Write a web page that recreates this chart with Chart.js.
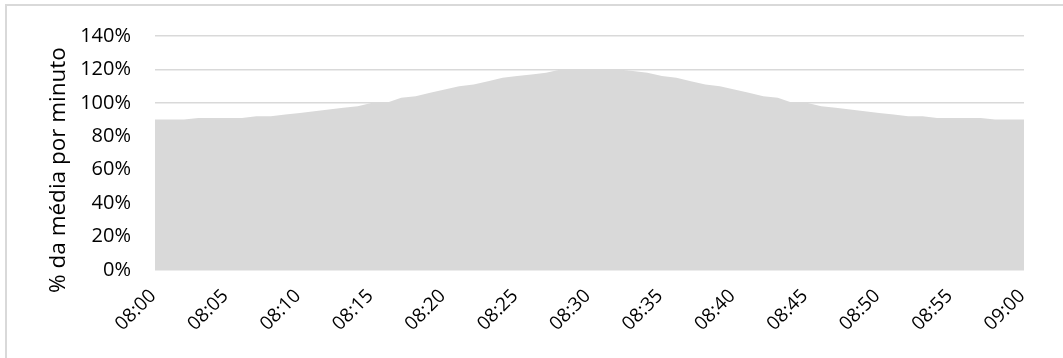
<!DOCTYPE html>
<html>
<head>
<meta charset="utf-8">
<script src="https://cdn.jsdelivr.net/npm/chart.js@4/dist/chart.umd.min.js"></script>
<style>
  html, body { margin: 0; padding: 0; background: #ffffff; }
  #wrap { width: 1063px; height: 358px; position: relative; }
</style>
</head>
<body>
<div id="wrap"><canvas id="chart" width="1063" height="358"></canvas></div>
<script>
// Minute-by-minute categories, 08:00 to 09:00
const minutes = [
  "08:00","08:01","08:02","08:03","08:04","08:05","08:06","08:07","08:08","08:09",
  "08:10","08:11","08:12","08:13","08:14","08:15","08:16","08:17","08:18","08:19",
  "08:20","08:21","08:22","08:23","08:24","08:25","08:26","08:27","08:28","08:29",
  "08:30","08:31","08:32","08:33","08:34","08:35","08:36","08:37","08:38","08:39",
  "08:40","08:41","08:42","08:43","08:44","08:45","08:46","08:47","08:48","08:49",
  "08:50","08:51","08:52","08:53","08:54","08:55","08:56","08:57","08:58","08:59",
  "09:00"
];

// Share of the average per-minute volume (%)
const pctOfAverage = [
  90, 90, 90, 91, 91, 91, 91, 92, 92, 93,
  94, 95, 96, 97, 98, 100, 100, 103, 104, 106,
  108, 110, 111, 113, 115, 116, 117, 118, 120, 120,
  120, 120, 120, 119, 118, 116, 115, 113, 111, 110,
  108, 106, 104, 103, 100, 100, 98, 97, 96, 95,
  94, 93, 92, 92, 91, 91, 91, 91, 90, 90,
  90
];

// Labelled x positions (every five minutes)
const shownTimes = ["08:00","08:05","08:10","08:15","08:20","08:25","08:30",
                    "08:35","08:40","08:45","08:50","08:55","09:00"];

// Y axis ticks
const yTicks = [0, 20, 40, 60, 80, 100, 120, 140];

const axisTitle = "% da média por minuto";

const FONT = "'Open Sans', 'Liberation Sans', sans-serif";
const GREY = "#d9d9d9";

// Outer frame and rotated axis title
const decor = {
  id: "decor",
  beforeDraw(chart) {
    const ctx = chart.ctx;
    ctx.save();
    ctx.strokeStyle = GREY;
    ctx.lineWidth = 2;
    ctx.strokeRect(6, 5, 1100, 400);
    ctx.restore();
  },
  afterDraw(chart) {
    const ctx = chart.ctx;
    const area = chart.chartArea;
    ctx.save();
    ctx.fillStyle = "#000";
    ctx.font = "22.5px " + FONT;
    ctx.translate(65, (area.top + area.bottom) / 2 + 17);
    ctx.rotate(-Math.PI / 2);
    ctx.textAlign = "center";
    ctx.textBaseline = "alphabetic";
    ctx.fillText(axisTitle, 0, 0);
    ctx.restore();
  }
};

function draw() {
  new Chart(document.getElementById("chart"), {
    type: "line",
    data: {
      labels: minutes,
      datasets: [{
        data: pctOfAverage,
        fill: "origin",
        backgroundColor: GREY,
        borderWidth: 0,
        pointRadius: 0,
        tension: 0
      }]
    },
    options: {
      responsive: false,
      animation: false,
      events: [],
      layout: { padding: { left: 0, top: 33, right: 39, bottom: 0 } },
      plugins: { legend: { display: false }, tooltip: { enabled: false } },
      scales: {
        x: {
          type: "category",
          offset: false,
          grid: { display: false, drawTicks: false },
          border: { display: false },
          ticks: {
            autoSkip: false,
            minRotation: 45,
            maxRotation: 45,
            padding: 15,
            labelOffset: -2,
            color: "#000",
            font: { family: FONT, size: 19 },
            callback: function (value) {
              const label = this.getLabelForValue(value);
              return shownTimes.includes(label) ? label : "";
            }
          },
          afterFit(scale) { scale.height = 88; }
        },
        y: {
          min: yTicks[0],
          max: yTicks[yTicks.length - 1],
          grid: { color: GREY, lineWidth: 1.5, drawTicks: false },
          border: { display: false },
          afterBuildTicks(scale) { scale.ticks = yTicks.map(v => ({ value: v })); },
          ticks: {
            padding: 24,
            color: "#000",
            font: { family: FONT, size: 20 },
            callback: v => v + "%"
          },
          afterFit(scale) { scale.width = 155; }
        }
      }
    },
    plugins: [decor]
  });
}

// Make sure the face is ready before the canvas text is measured
Promise.all([
  document.fonts.load("20px 'Open Sans'"),
  document.fonts.load("19px 'Open Sans'")
]).then(draw, draw);
</script>
</body>
</html>
